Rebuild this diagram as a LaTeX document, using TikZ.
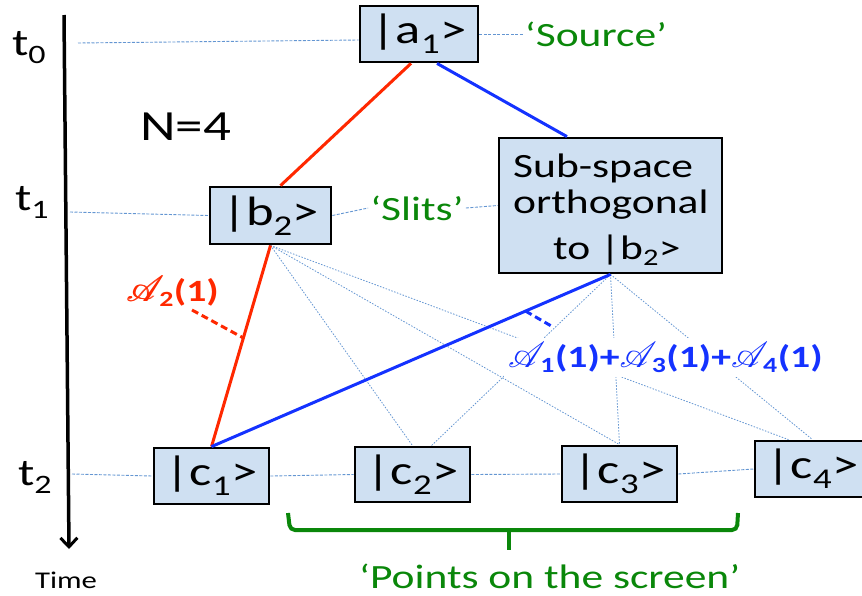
\documentclass[tikz,border=0pt]{standalone}
\usepackage{fontspec}
\setmainfont{Carlito}[FakeStretch=1.28]
\usepackage{mathrsfs}
\usetikzlibrary{arrows.meta}
\definecolor{boxfill}{RGB}{207,224,242}
\definecolor{lred}{RGB}{255,40,0}
\definecolor{lblue}{RGB}{20,50,255}
\definecolor{guidecol}{RGB}{100,150,210}
\definecolor{lgreen}{RGB}{10,135,10}
\newcommand{\scrA}{\scalebox{1.45}{$\mathscr{A}$}\kern-5pt}
\newcommand{\scrAbold}{\makebox[0pt][l]{\scrA}\kern0.9pt\scrA}
\tikzset{
  stbox/.style={draw=black, line width=2.8pt, fill=boxfill, minimum width=115pt,
    minimum height=56pt, inner sep=0pt, font=\fontsize{41}{45}\selectfont},
  guide/.style={draw=guidecol, line width=0.9pt, dash pattern=on 3pt off 1.5pt},
  fan/.style={draw=guidecol, line width=0.8pt, dash pattern=on 1.5pt off 1.5pt},
  rline/.style={draw=lred, line width=3pt},
  bline/.style={draw=lblue, line width=3pt},
  gtxt/.style={text=lgreen, font=\fontsize{34}{38}\selectfont, inner sep=2pt},
  ttxt/.style={font=\fontsize{38}{42}\selectfont, inner sep=0pt, anchor=base west},
  subtxt/.style={font=\fontsize{34}{38}\selectfont, inner sep=0pt, anchor=base west},
  amp/.style={font=\fontsize{31}{35}\selectfont\bfseries, inner sep=0pt, anchor=base west},
  ampdash/.style={line width=3pt, dash pattern=on 7pt off 4pt},
}
\begin{document}
\begin{tikzpicture}[x=1pt,y=-1pt]
\useasboundingbox (0,0) rectangle (862,595);

% time axis
\coordinate (ttop) at (64,15);
\coordinate (tbot) at (69,549);
\draw[line width=3.5pt, -{Straight Barb[length=9pt,width=17pt,line width=3pt]}] (ttop) -- (tbot);
\node[ttxt] (t0) at (12,55) {t\textsubscript{0}};
\node[ttxt] (t1) at (15,210) {t\textsubscript{1}};
\node[ttxt] (t2) at (18,485) {t\textsubscript{2}};
\node[font=\fontsize{24}{28}\selectfont, inner sep=0pt, anchor=base west] (time) at (35,588) {Time};
\node[font=\fontsize{43}{47}\selectfont, inner sep=0pt, anchor=base west] (N) at (140,140) {N=4};

% boxes
\node[stbox, minimum width=118pt] (a1) at (419,34) {|a\textsubscript{1}>};
\node[stbox, minimum width=121pt, minimum height=57pt] (b2) at (270.5,215.5) {|b\textsubscript{2}>};
\node[stbox, minimum width=223pt, minimum height=135pt] (sub) at (610.5,205.5) {};
\node[subtxt] (s1) at (513,177) {Sub-space};
\node[subtxt] (s2) at (513,213) {orthogonal};
\node[subtxt] (s3) at (553,259) {to |b\textsubscript{2}>};
\node[stbox] (c1) at (211.5,476) {|c\textsubscript{1}>};
\node[stbox, minimum height=55pt] (c2) at (412.5,474.5) {|c\textsubscript{2}>};
\node[stbox] (c3) at (619.5,474) {|c\textsubscript{3}>};
\node[stbox] (c4) at (812.5,469) {|c\textsubscript{4}>};

% green labels
\node[gtxt] (source) at (596,34) {‘Source’};
\node[gtxt] (slits) at (417,208) {‘Slits’};
\node[gtxt, anchor=base west] (points) at (357,588) {‘Points on the screen’};

% guide lines
\coordinate (g0) at (78,43);
\coordinate (g1) at (70,212);
\coordinate (g2) at (72,474);
\draw[guide] (g0) -- ([yshift=-6pt]a1.west);
\draw[guide] (a1.east) -- (source.west);
\draw[guide] (g1) -- (b2.west);
\draw[guide] (b2.east) -- (slits.west);
\draw[guide] (slits.east) -- (sub.west);
\draw[guide] (g2) -- (c1.west);
\draw[guide] (c1.east) -- (c2.west);
\draw[guide] (c2.east) -- (c3.west);
\draw[guide] (c3.east) -- (c4.west);

% fan lines
\draw[fan] (b2.south) -- (c2.north);
\draw[fan] (b2.south) -- (c3.north);
\draw[fan] (b2.south) -- ([xshift=-24pt]c4.north);
\draw[fan] (sub.south) -- ([xshift=19pt]c2.north);
\draw[fan] (sub.south) -- (c3.north);
\draw[fan] (sub.south) -- (c4.north);

% main paths
\draw[rline] ([xshift=-8pt]a1.south) -- ([xshift=10pt]b2.north);
\draw[bline] ([xshift=18pt]a1.south) -- ([xshift=-43.5pt]sub.north);
\draw[rline] (b2.south) -- (c1.north);
\draw[bline] (sub.south) -- (c1.north);

% amplitude labels
\path (b2.south) -- (c1.north) coordinate[pos=0.46] (rt);
\path (sub.south) -- (c1.north) coordinate[pos=0.213] (bt);
\coordinate (rfree) at (192,310);
\coordinate (bfree) at (553,327);
\draw[lred, ampdash] (rfree) -- (rt);
\draw[lblue, ampdash] (bt) -- (bfree);
\node[amp, text=lred] (A2) at (126,301) {\scrAbold\textsubscript{2}(1)};
\node[amp, text=lblue, fill=white, inner sep=4pt] (A134) at (504,367)
  {\scrA\textsubscript{1}(1)+\scrA\textsubscript{3}(1)+\scrA\textsubscript{4}(1)};

% brace
\draw[lgreen, line width=4pt, rounded corners=5pt] (288,513) -- (290,530) -- (737,530) -- (738,513);
\draw[lgreen, line width=4pt] (509,530) -- (509,550);
\end{tikzpicture}
\end{document}
